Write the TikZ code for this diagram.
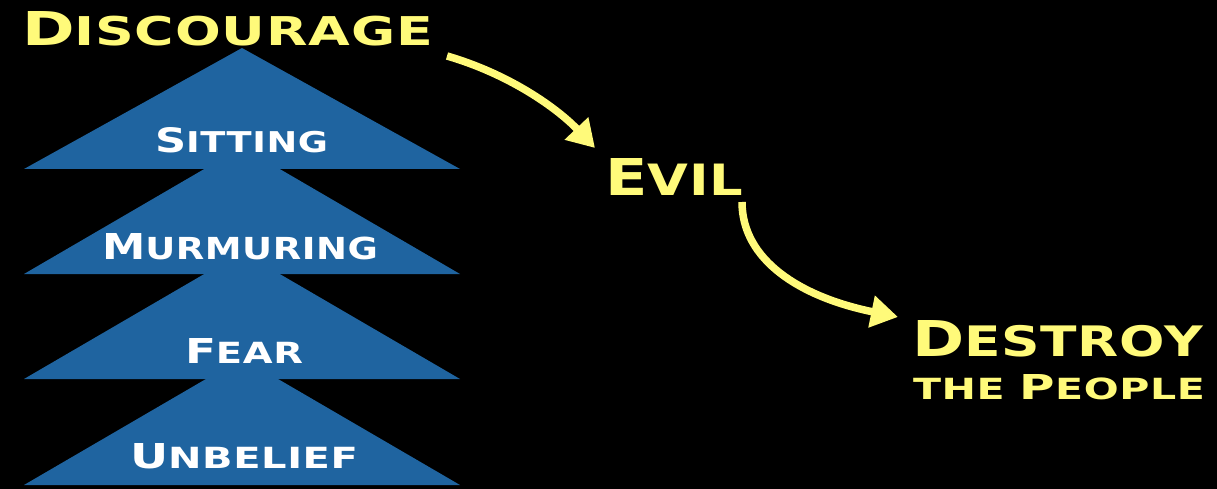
\documentclass[tikz,border=0pt]{standalone}
\usepackage{fontspec}
\setmainfont{DejaVu Sans}[LetterSpace=1.5]
\usetikzlibrary{arrows.meta}
\definecolor{pyrblue}{RGB}{31,100,160}
\definecolor{gold}{RGB}{255,250,122}
\newcommand{\capL}[1]{{\fontsize{20}{20}\selectfont #1}}
\newcommand{\capS}[1]{{\fontsize{17}{17}\selectfont #1}}
\newcommand{\lbl}[4]{\resizebox{#1pt}{#2pt}{\bfseries\capL{#3}\capS{#4}}}
\begin{document}
\begin{tikzpicture}[x=1pt,y=-1pt,
  txt/.style={inner sep=0pt,outer sep=0pt,anchor=south west},
  yel/.style={txt,text=gold},
  wht/.style={txt,text=white},
  tri/.style={fill=pyrblue},
  arr/.style={draw=gold,line width=7.5pt,-{Triangle[length=27pt,width=31pt]}}]
\fill[black] (0,0) rectangle (1217,489);
\useasboundingbox (0,0) rectangle (1217,489);
% pyramid of triangles, bottom first
\fill[tri] (24,485) -- (242,358) -- (460,485) -- cycle;
\fill[tri] (24,379) -- (242,252) -- (460,379) -- cycle;
\fill[tri] (24,274) -- (242,147) -- (460,274) -- cycle;
\fill[tri] (24,169) -- (242,48) -- (460,169) -- cycle;
% labels
\node[wht] (sit) at (155,153) {\lbl{173}{25}{S}{ITTING}};
\node[wht] (mur) at (102,260) {\lbl{276}{26}{M}{URMURING}};
\node[wht] (fear) at (185,363) {\lbl{118}{25}{F}{EAR}};
\node[wht] (unb) at (130,469) {\lbl{228}{25}{U}{NBELIEF}};
\node[yel] (disc) at (22,46) {\lbl{411}{34}{D}{ISCOURAGE}};
\node[yel] (evil) at (605,195) {\lbl{138}{37}{E}{VIL}};
\node[yel] (destroy) at (912,400) {\vbox{\offinterlineskip
  \hbox{\lbl{291}{36}{D}{ESTROY}}\kern17pt
  \hbox{\kern1pt\resizebox{292pt}{25pt}{\bfseries\capS{THE }\capL{P}\capS{EOPLE}}}}};
% arrows
\draw[arr] ([xshift=14pt,yshift=-10pt]disc.south east)
  .. controls +(62,18) and +(-38,-40) .. ([xshift=-10pt,yshift=10pt]evil.north west);
\draw[arr] ([xshift=-1pt,yshift=-7pt]evil.south east)
  .. controls +(0,58) and +(-98,-20) .. ([xshift=-14pt,yshift=4pt]destroy.north west);
\end{tikzpicture}
\end{document}
